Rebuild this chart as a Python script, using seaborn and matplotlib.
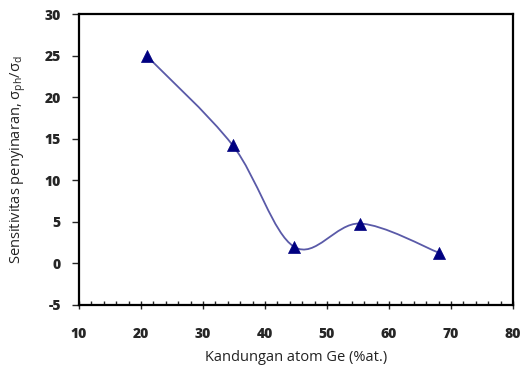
import numpy as np
import pandas as pd
import matplotlib
matplotlib.use("Agg")
import matplotlib.pyplot as plt
import seaborn as sns
from matplotlib.path import Path
from matplotlib.patches import PathPatch
from matplotlib.ticker import MultipleLocator

# data
ge_content = [21.0, 34.8, 44.7, 55.3, 68.0]
sensitivity = [24.9, 14.2, 2.0, 4.8, 1.3]

df = pd.DataFrame({"ge": ge_content, "sens": sensitivity})

sns.set_style("white")
plt.rcParams["font.family"] = ["Open Sans", "DejaVu Sans"]
plt.rcParams["mathtext.default"] = "regular"
plt.rcParams["axes.unicode_minus"] = False

fig = plt.figure(figsize=(5.28, 3.65), dpi=100)
ax = fig.add_axes([0.1496, 0.1644, 0.8220, 0.7972])

# smoothed connecting line (Excel-style bezier through the points)
x = np.array(ge_content)
y = np.array(sensitivity)
px = np.concatenate([[x[0]], x, [x[-1]]])
py = np.concatenate([[y[0]], y, [y[-1]]])
verts = [(x[0], y[0])]
codes = [Path.MOVETO]
for i in range(1, len(px) - 2):
    c1 = (px[i] + (px[i + 1] - px[i - 1]) / 6, py[i] + (py[i + 1] - py[i - 1]) / 6)
    c2 = (px[i + 1] - (px[i + 2] - px[i]) / 6, py[i + 1] - (py[i + 2] - py[i]) / 6)
    verts += [c1, c2, (px[i + 1], py[i + 1])]
    codes += [Path.CURVE4] * 3
ax.add_patch(PathPatch(Path(verts, codes), facecolor="none", edgecolor="#5a5aa8", lw=1.3, zorder=2))

sns.scatterplot(data=df, x="ge", y="sens", marker="^", s=75, color="#000080",
                edgecolor="#000080", linewidth=0.5, ax=ax, zorder=3)

ax.set_xlim(10, 80)
ax.set_ylim(-5, 30)
ax.xaxis.set_major_locator(MultipleLocator(10))
ax.xaxis.set_minor_locator(MultipleLocator(2))
ax.yaxis.set_major_locator(MultipleLocator(5))

for s in ax.spines.values():
    s.set_color("black")
    s.set_linewidth(1.6)

ax.tick_params(axis="x", which="major", direction="inout", length=6, width=1, bottom=True,
               labelsize=10, pad=13)
ax.tick_params(axis="x", which="minor", direction="in", length=3, width=1, bottom=True)
ax.tick_params(axis="y", which="major", direction="out", length=5, width=1, left=True,
               labelsize=10, pad=8)
for lab in ax.get_xticklabels() + ax.get_yticklabels():
    lab.set_fontweight("heavy")

ax.set_xlabel("Kandungan atom Ge (%at.)", fontsize=10.5, labelpad=6, color="#222222")
ax.set_ylabel("Sensitivitas penyinaran, σ$_{ph}$/σ$_{d}$", fontsize=10.5, labelpad=12,
              color="#222222")

fig.savefig("out.png", dpi=100)
